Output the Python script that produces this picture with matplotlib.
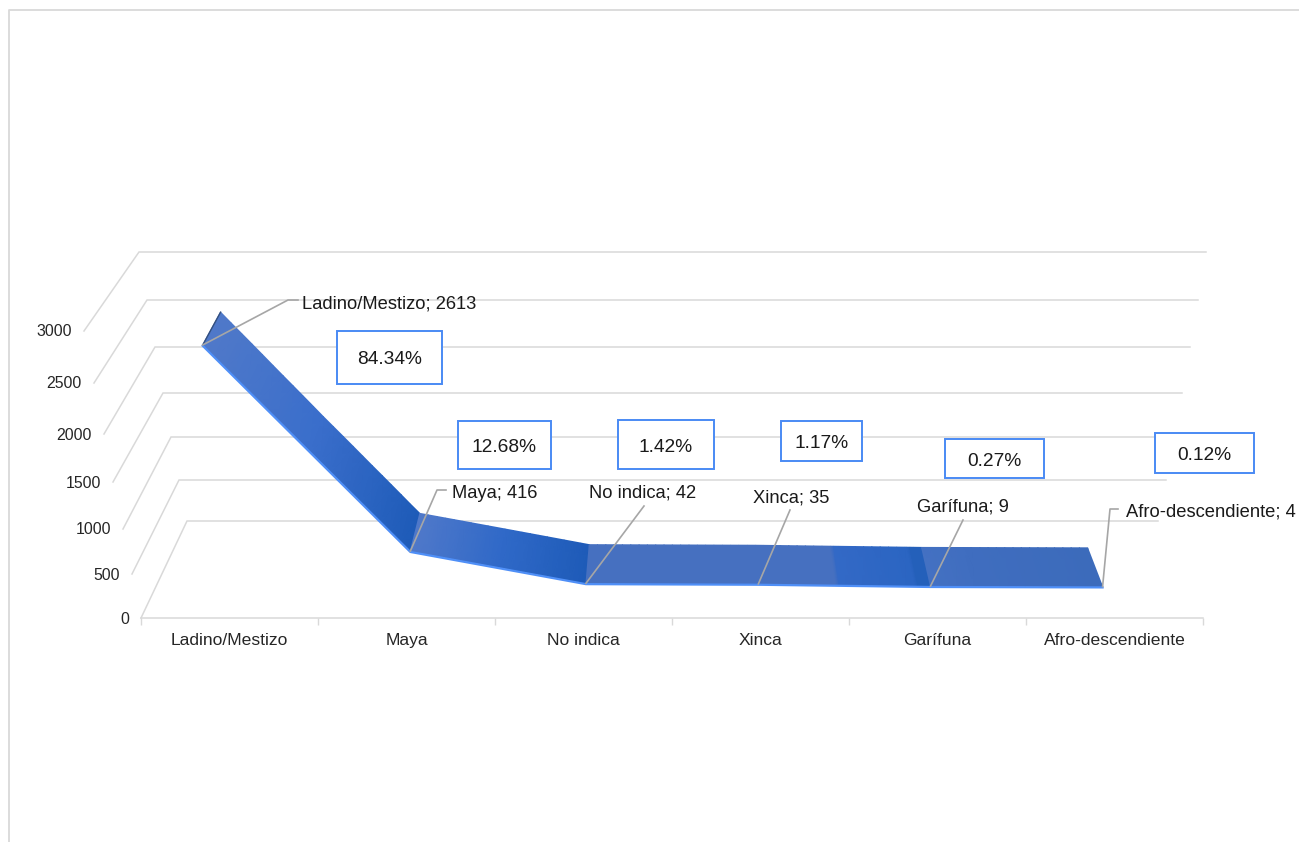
import numpy as np
import matplotlib
matplotlib.use("Agg")
import matplotlib.pyplot as plt
from matplotlib.colors import to_rgb
from matplotlib.patches import Rectangle

plt.rcParams['font.family'] = ['Liberation Sans', 'DejaVu Sans']

categories = ["Ladino/Mestizo", "Maya", "No indica", "Xinca", "Garífuna", "Afro-descendiente"]
values = [2613, 416, 42, 35, 9, 4]
percents = ["84.34%", "12.68%", "1.42%", "1.17%", "0.27%", "0.12%"]
y_ticks = [0, 500, 1000, 1500, 2000, 2500, 3000]

W, H = 1299, 842

# the fake 3d box, in pixels: front and back planes at each y tick
front_y = [618, 574, 529, 482, 434, 383, 331]
back_y = [521, 480, 437, 393, 347, 300, 252]
front_left = [141, 132, 123, 113, 104, 94, 84]
back_left = [187, 179, 171, 163, 155, 147, 139]
front_right = [1203, 1212, 1221, 1231, 1240, 1250, 1259]
back_right = [1158, 1166, 1174, 1182, 1190, 1198, 1206]
d_front, d_back = 0.32, 0.72


def project(c, v, d):
    # c = category position 0..6, v = value, d = depth 0 (front) .. 1 (back)
    yf = np.interp(v, y_ticks, front_y)
    yb = np.interp(v, y_ticks, back_y)
    xl = np.interp(v, y_ticks, front_left) * (1 - d) + np.interp(v, y_ticks, back_left) * d
    xr = np.interp(v, y_ticks, front_right) * (1 - d) + np.interp(v, y_ticks, back_right) * d
    return xl + (xr - xl) * c / 6, yf * (1 - d) + yb * d


fig = plt.figure(figsize=(W / 100, H / 100), dpi=100)
ax = fig.add_axes([0, 0, 1, 1])
ax.set_xlim(0, W)
ax.set_ylim(H, 0)
ax.axis("off")

# outer frame, only top and left show up
ax.plot([9, 9, W], [H, 10, 10], color="#d9d9d9", lw=1.3)

grid_c = "#d9d9d9"
for i, v in enumerate(y_ticks):
    xb, yb = project(0, v, 1)
    xe, _ = project(6, v, 1)
    xf, yf = project(0, v, 0)
    ax.plot([xf, xb, xe], [yf, yb, yb], color=grid_c, lw=1.1, solid_joinstyle="miter")
    ax.text(xf - 12, yf + 1, str(v), ha="right", va="center", fontsize=11.4, color="#262626")

# x axis on its own axes so the ticks are real ticks
ax2 = fig.add_axes([141 / W, 1 - 618 / H, (1203 - 141) / W, 0.001])
ax2.patch.set_alpha(0)
ax2.set_xlim(0, 6)
for s in ["left", "right", "top"]:
    ax2.spines[s].set_visible(False)
ax2.spines["bottom"].set_color(grid_c)
ax2.spines["bottom"].set_linewidth(1.1)
ax2.set_yticks([])
ax2.set_xticks(range(7))
ax2.set_xticklabels([])
ax2.tick_params(axis="x", which="major", length=5, width=1, color=grid_c)
ax2.set_xticks(np.arange(6) + 0.5, minor=True)
ax2.set_xticklabels(categories, minor=True, fontsize=12.6, color="#262626")
ax2.tick_params(axis="x", which="minor", length=0, pad=11)

# colour stops along each band segment
seg_stops = [
    [(0, "#5079c9"), (0.5, "#3a6ecb"), (1, "#1e5bb8")],
    [(0, "#5079c9"), (0.5, "#3069c8"), (1, "#1e5bb8")],
    [(0, "#4670c0"), (1, "#4670c0")],
    [(0, "#4670c0"), (0.45, "#4670c0"), (0.47, "#3369c6"), (0.91, "#2b65c2"), (0.93, "#2460ba"), (1, "#2460ba")],
    [(0, "#4471c2"), (0.3, "#3f6dbf"), (1, "#3c6bbb")],
]
cpos = np.arange(6) + 0.5
for i in range(5):
    pos = [s[0] for s in seg_stops[i]]
    rgb = np.array([to_rgb(s[1]) for s in seg_stops[i]])
    t = np.unique(np.concatenate([np.linspace(0, 1, 21), pos]))
    c = cpos[i] + t
    v = values[i] + (values[i + 1] - values[i]) * t
    xy_f = [project(a, b, d_front) for a, b in zip(c, v)]
    xy_b = [project(a, b, d_back) for a, b in zip(c, v)]
    X = np.array([[p[0] for p in xy_f], [p[0] for p in xy_b]])
    Y = np.array([[p[1] for p in xy_f], [p[1] for p in xy_b]])
    C = np.stack([np.interp(t, pos, rgb[:, k]) for k in range(3)], axis=1)
    C = np.stack([C, C])
    ax.pcolormesh(X, Y, C, shading="gouraud", zorder=3)

# light edge along the front, dark edge at the first point
front = np.array([project(a, b, d_front) for a, b in zip(cpos, values)])
ax.plot(front[:, 0], front[:, 1] + 0.8, color="#4f8ff7", lw=1.6, zorder=4)
x0, y0 = project(cpos[0], values[0], d_front)
x1, y1 = project(cpos[0], values[0], d_back)
ax.plot([x0, x1], [y0, y1], color="#34507f", lw=1.0, zorder=4)

# leader lines: bend point(s) and label position per point
leader_mid = [[(288, 300), (298, 300)], [(437, 490), (446, 490)], [(644, 506)], [(790, 510)], [(963, 520)], [(1110, 509), (1118, 509)]]
label_pos = [(302, 304, "left"), (452, 493, "left"), (643, 493, "center"), (791, 498, "center"), (963, 507, "center"), (1126, 512, "left")]
for i in range(6):
    pts = [tuple(front[i])] + leader_mid[i]
    ax.plot([p[0] for p in pts], [p[1] for p in pts], color="#a6a6a6", lw=1.2, zorder=5)
    lx, ly, ha = label_pos[i]
    ax.text(lx, ly, f"{categories[i]}; {values[i]}", ha=ha, va="center", fontsize=13.2, color="#1a1a1a", zorder=6)

# percent boxes
boxes = [(337, 331, 442, 384), (458, 421, 551, 469), (618, 420, 714, 469), (781, 421, 862, 461), (945, 439, 1044, 478), (1155, 433, 1254, 473)]
for b, p in zip(boxes, percents):
    ax.add_patch(Rectangle((b[0], b[1]), b[2] - b[0], b[3] - b[1], fc="white", ec="#4a8af4", lw=1.4, zorder=5))
    ax.text((b[0] + b[2]) / 2, (b[1] + b[3]) / 2 + 2.5, p, ha="center", va="center", fontsize=13.8, color="#1a1a1a", zorder=6)

fig.savefig("out.png", dpi=100)
